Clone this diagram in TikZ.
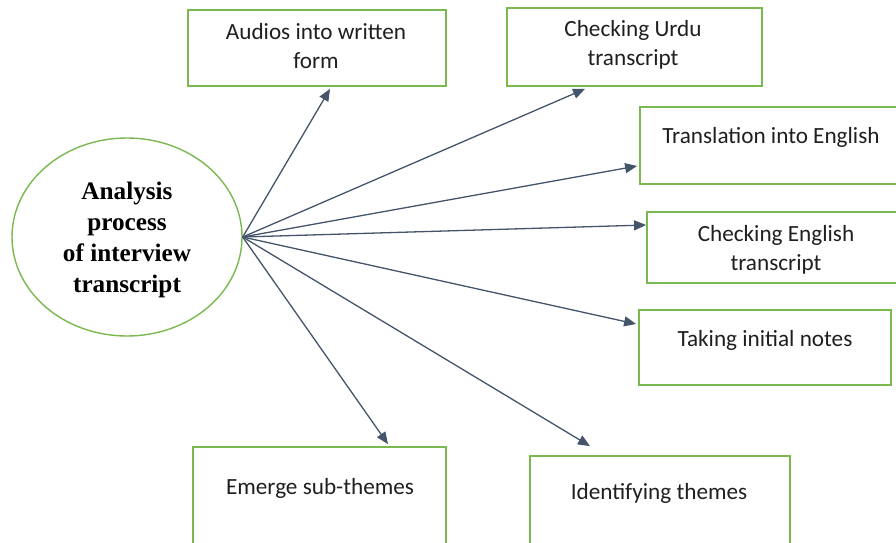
\documentclass[tikz,border=0pt]{standalone}
\usepackage{fontspec}
\setmainfont{Carlito}
\newfontfamily\headfont{Liberation Serif}
\usetikzlibrary{shapes.geometric, arrows.meta}
\definecolor{boxgreen}{RGB}{122,184,80}
\definecolor{arrowgray}{RGB}{68,84,106}
\tikzset{stepbox/.style={draw=boxgreen,line width=0.9pt,inner sep=0pt},
         steptext/.style={align=center,text=black!88,font=\fontsize{11.6}{14.5}\selectfont,inner sep=0pt},
         mainnode/.style={ellipse,draw=boxgreen,line width=0.7pt,minimum width=115pt,minimum height=99pt},
         maintext/.style={align=center,font=\headfont\bfseries\fontsize{12.6}{15.6}\selectfont,inner sep=0pt},
         flow/.style={-{Triangle[length=6pt,width=5pt]},draw=arrowgray,line width=0.65pt},
        }

\begin{document}
\begin{tikzpicture}[x=0.5pt,y=-0.5pt]
        \path[use as bounding box](0,0)rectangle(896,542);
        \clip(0,0)rectangle(896,542);

        \node[mainnode](main)at(127,237){};
        \node[maintext](mainlabel)at(127,240){Analysis\\process\\of interview\\transcript};

        \node[stepbox, minimum width=129pt, minimum height=38pt](audio)at(317,48){};
        \node[stepbox, minimum width=127.5pt, minimum height=39pt](urdu)at(634.5,47){};
        \node[stepbox, minimum width=131pt, minimum height=38.5pt](trans)at(771,145.5){};
        \node[stepbox, minimum width=129pt, minimum height=35.5pt](eng)at(776,247.5){};
        \node[stepbox, minimum width=126pt, minimum height=37.5pt](notes)at(765,347.5){};
        \node[stepbox, minimum width=126.5pt, minimum height=49pt](sub)at(319.5,496){};
        \node[stepbox, minimum width=130pt, minimum height=49.5pt](themes)at(660,505.5){};

        \node[steptext](audiotext)at(316,46.5){Audios into written\\form};
        \node[steptext](urdutext)at(633,45){Checking Urdu\\transcript};
        \node[steptext](transtext)at(771,137){Translation into English};
        \node[steptext](engtext)at(776,249.5){Checking English\\transcript};
        \node[steptext](notestext)at(765,340){Taking initial notes};
        \node[steptext](subtext)at(320,488){Emerge sub-themes};
        \node[steptext](themestext)at(659,493){Identifying themes};

        \draw[flow](main.east)--([xshift=6.5pt,yshift=-1pt]audio.south);
        \draw[flow](main.east)--([xshift=-24.75pt,yshift=-1pt]urdu.south);
        \draw[flow](main.east)--([xshift=-1pt,yshift=-10.25pt]trans.west);
        \draw[flow](main.east)--([yshift=11.25pt]eng.west);
        \draw[flow](main.east)--([xshift=-1pt,yshift=11.75pt]notes.west);
        \draw[flow](main.east)--([xshift=34.25pt,yshift=1pt]sub.north);
        \draw[flow](main.east)--([xshift=-35pt,yshift=4.5pt]themes.north);
    \end{tikzpicture}
\end{document}
